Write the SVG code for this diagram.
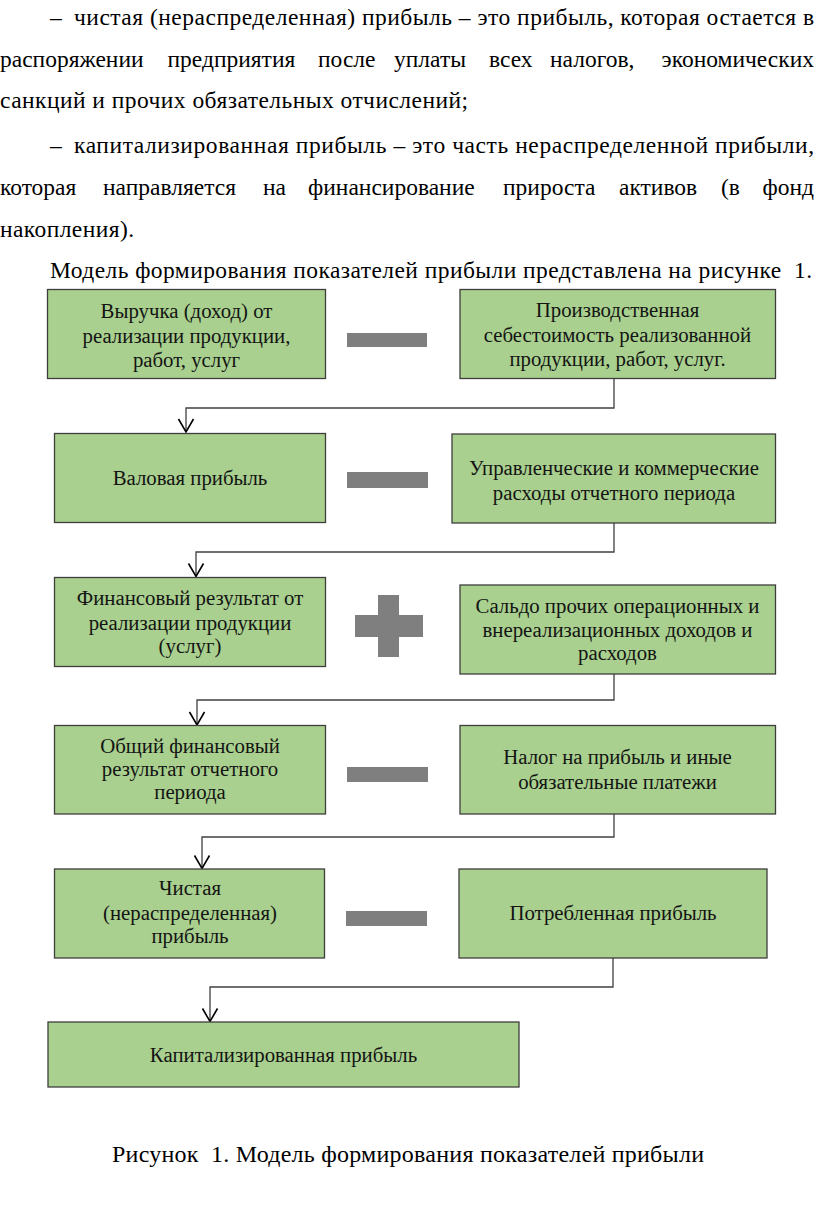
<svg xmlns="http://www.w3.org/2000/svg" width="816" height="1227" viewBox="0 0 816 1227">
<style>
.body{font-family:"Liberation Serif","Times New Roman",serif;font-size:23.5px;fill:#000}
.cap{font-family:"Liberation Serif","Times New Roman",serif;font-size:24px;fill:#000}
.box{fill:#a9d08e;stroke:#3e3e3e;stroke-width:1.3}
.lbl{font-family:"Liberation Serif","Times New Roman",serif;font-size:20.8px;fill:#141414;text-anchor:middle}
.op{fill:#7f7f7f}
.conn{fill:none;stroke:#404040;stroke-width:1.3}
</style>
<defs>
<marker id="arr" viewBox="-15 -9 17 18" refX="0" refY="0" markerWidth="17" markerHeight="18" markerUnits="userSpaceOnUse" orient="auto">
<path d="M-13,-7.5 L0,0 L-13,7.5" fill="none" stroke="#000" stroke-width="1.6"/>
</marker>
</defs>
<rect width="816" height="1227" fill="#fff"/>
<g id="paragraph">
<text class="body" x="50" y="25">–</text>
<text class="body" x="74" y="25" textLength="740" lengthAdjust="spacing">чистая (нераспределенная) прибыль – это прибыль, которая остается в</text>
<text class="body" y="67"><tspan x="0">распоряжении</tspan><tspan x="167.5">предприятия</tspan><tspan x="318">после</tspan><tspan x="394">уплаты</tspan><tspan x="489">всех</tspan><tspan x="550">налогов,</tspan><tspan x="814" text-anchor="end">экономических</tspan></text>
<text class="body" x="0" y="108" textLength="468" lengthAdjust="spacing">санкций и прочих обязательных отчислений;</text>
<text class="body" x="50" y="153">–</text>
<text class="body" x="74" y="153" textLength="740" lengthAdjust="spacing">капитализированная прибыль – это часть нераспределенной прибыли,</text>
<text class="body" y="195"><tspan x="0">которая</tspan><tspan x="103">направляется</tspan><tspan x="263">на</tspan><tspan x="308">финансирование</tspan><tspan x="503">прироста</tspan><tspan x="619">активов</tspan><tspan x="721">(в</tspan><tspan x="814" text-anchor="end">фонд</tspan></text>
<text class="body" x="0" y="237" textLength="134" lengthAdjust="spacing">накопления).</text>
<text class="body" x="50" y="278" textLength="762" lengthAdjust="spacing">Модель формирования показателей прибыли представлена на рисунке <tspan dx="6">1.</tspan></text>
</g>
<g id="connectors">
<path class="conn" d="M614,378.5 V408 H186 V432" marker-end="url(#arr)"/>
<path class="conn" d="M614,523 V552 H196 V576.5" marker-end="url(#arr)"/>
<path class="conn" d="M614,674 V700 H197 V725" marker-end="url(#arr)"/>
<path class="conn" d="M614,814 V837 H202 V868.5" marker-end="url(#arr)"/>
<path class="conn" d="M613,958 V987 H210 V1021.5" marker-end="url(#arr)"/>
</g>
<g id="n1"><rect class="box" x="47.5" y="289.5" width="278" height="89"/>
<text class="lbl"><tspan x="186.5" y="318">Выручка (доход) от</tspan><tspan x="186.5" y="343">реализации продукции,</tspan><tspan x="186.5" y="367">работ, услуг</tspan></text></g>
<g id="op1"><rect class="op" x="347" y="333" width="80" height="14"/></g>
<g id="n2"><rect class="box" x="460" y="289.5" width="315.5" height="89"/>
<text class="lbl"><tspan x="617.5" y="317">Производственная</tspan><tspan x="617.5" y="342">себестоимость реализованной</tspan><tspan x="617.5" y="366">продукции, работ, услуг.</tspan></text></g>
<g id="n3"><rect class="box" x="54.5" y="433.5" width="271" height="89"/>
<text class="lbl"><tspan x="190" y="485">Валовая прибыль</tspan></text></g>
<g id="op2"><rect class="op" x="347" y="472" width="81" height="16"/></g>
<g id="n4"><rect class="box" x="452" y="434" width="323.5" height="89"/>
<text class="lbl"><tspan x="614" y="475">Управленческие и коммерческие</tspan><tspan x="614" y="500">расходы отчетного периода</tspan></text></g>
<g id="n5"><rect class="box" x="54.5" y="577.5" width="271" height="89"/>
<text class="lbl"><tspan x="190" y="605">Финансовый результат от</tspan><tspan x="190" y="630">реализации продукции</tspan><tspan x="190" y="653">(услуг)</tspan></text></g>
<g id="op3"><rect class="op" x="355" y="615" width="68" height="22"/><rect class="op" x="378" y="595" width="21" height="62"/></g>
<g id="n6"><rect class="box" x="460" y="585" width="315.5" height="89"/>
<text class="lbl"><tspan x="617.5" y="613">Сальдо прочих операционных и</tspan><tspan x="617.5" y="637">внереализационных доходов и</tspan><tspan x="617.5" y="660">расходов</tspan></text></g>
<g id="n7"><rect class="box" x="54.5" y="725.5" width="271" height="88.5"/>
<text class="lbl"><tspan x="190" y="753">Общий финансовый</tspan><tspan x="190" y="776">результат отчетного</tspan><tspan x="190" y="799">периода</tspan></text></g>
<g id="op4"><rect class="op" x="347" y="767" width="81" height="15"/></g>
<g id="n8"><rect class="box" x="460" y="725.5" width="315.5" height="88.5"/>
<text class="lbl"><tspan x="617.5" y="764">Налог на прибыль и иные</tspan><tspan x="617.5" y="789">обязательные платежи</tspan></text></g>
<g id="n9"><rect class="box" x="54.5" y="869" width="270" height="89"/>
<text class="lbl"><tspan x="190" y="895">Чистая</tspan><tspan x="190" y="920">(нераспределенная)</tspan><tspan x="190" y="943">прибыль</tspan></text></g>
<g id="op5"><rect class="op" x="346" y="911" width="81" height="15"/></g>
<g id="n10"><rect class="box" x="459" y="869" width="308" height="89"/>
<text class="lbl"><tspan x="613" y="920">Потребленная прибыль</tspan></text></g>
<g id="n11"><rect class="box" x="48" y="1022" width="471" height="65"/>
<text class="lbl"><tspan x="283.5" y="1062">Капитализированная прибыль</tspan></text></g>
<g id="caption"><text class="cap" x="112" y="1162" textLength="592" lengthAdjust="spacing">Рисунок <tspan dx="6">1.</tspan> Модель формирования показателей прибыли</text></g>
</svg>
